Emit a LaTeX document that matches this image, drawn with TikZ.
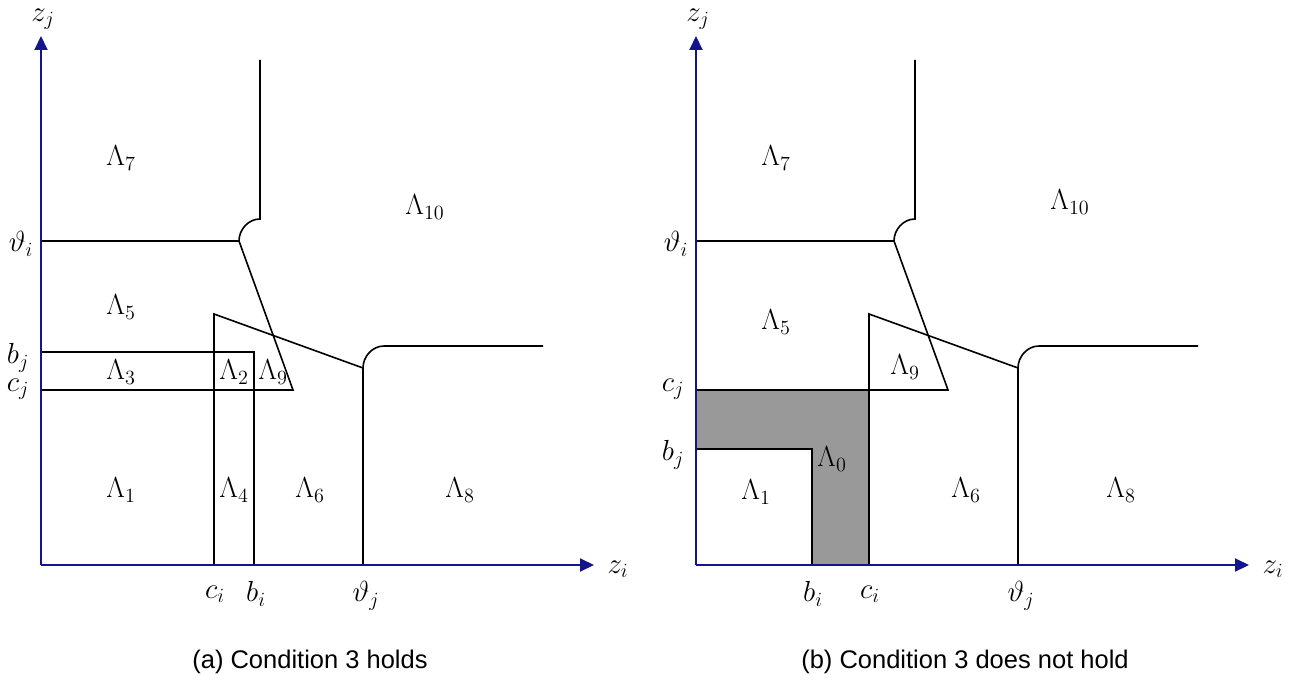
\documentclass[tikz,border=0pt]{standalone}
\usepackage{fontspec}
\newfontfamily\capfont{Liberation Sans}
\usetikzlibrary{arrows.meta}
\definecolor{axisblue}{RGB}{20,20,140}
\definecolor{fillgray}{RGB}{153,153,153}
\begin{document}
\begin{tikzpicture}[x=1pt,y=-1pt, line width=1.6pt,
  axis/.style={draw=axisblue, line width=2pt, -{Triangle[length=14pt,width=13pt]}},
  lbl/.style={font=\huge, scale=1.4, inner sep=0pt},
  captext/.style={font=\capfont\fontsize{25.5}{30}\selectfont, inner sep=0pt}]
\useasboundingbox (0,0) rectangle (1296,682);

% ---------- panel (a) ----------
\coordinate (oa) at (41,565);
\draw (41,241) -- (239,241) .. controls (239,229.4) and (248.4,219) .. (260,219) -- (260,60);
\draw (239,241) -- (293,390) -- (41,390);
\draw (214,565) -- (214,314) -- (363,368);
\draw (363,565) -- (363,368) .. controls (363,356.4) and (372.4,346) .. (384,346) -- (543,346);
\draw (41,352) -- (254,352) -- (254,565);
\draw[axis] (oa) -- (41,36);
\draw[axis] (oa) -- (594,565);

\node[lbl] (za) at (43,19) {$z_j$};
\node[lbl] (tia) at (21,244) {$\vartheta_i$};
\node[lbl] (bja) at (18,358) {$b_j$};
\node[lbl] (cja) at (18,389) {$c_j$};
\node[lbl] (cia) at (215,594) {$c_i$};
\node[lbl] (bia) at (256,594) {$b_i$};
\node[lbl] (tja) at (366,596) {$\vartheta_j$};
\node[lbl] (zia) at (618,569) {$z_i$};

\node[lbl] (a7) at (121,158) {$\Lambda_7$};
\node[lbl] (a10) at (425,207) {$\Lambda_{10}$};
\node[lbl] (a5) at (121,307) {$\Lambda_5$};
\node[lbl] (a3) at (121,372) {$\Lambda_3$};
\node[lbl] (a2) at (234,372) {$\Lambda_2$};
\node[lbl] (a9) at (273,372) {$\Lambda_9$};
\node[lbl] (a1) at (121,490) {$\Lambda_1$};
\node[lbl] (a4) at (234,490) {$\Lambda_4$};
\node[lbl] (a6) at (310,490) {$\Lambda_6$};
\node[lbl] (a8) at (460,490) {$\Lambda_8$};

\node[captext] (capa) at (310,662) {(a) Condition 3 holds};

% ---------- panel (b) ----------
\begin{scope}[xshift=655pt]
\fill[fillgray] (41,390) -- (214,390) -- (214,565) -- (157,565) -- (157,449) -- (41,449) -- cycle;
\coordinate (ob) at (41,565);
\draw (41,241) -- (239,241) .. controls (239,229.4) and (248.4,219) .. (260,219) -- (260,60);
\draw (239,241) -- (293,390) -- (41,390);
\draw (214,565) -- (214,314) -- (363,368);
\draw (363,565) -- (363,368) .. controls (363,356.4) and (372.4,346) .. (384,346) -- (543,346);
\draw (41,449) -- (157,449) -- (157,565);
\draw[axis] (ob) -- (41,36);
\draw[axis] (ob) -- (594,565);

\node[lbl] (zb) at (43,19) {$z_j$};
\node[lbl] (tib) at (21,244) {$\vartheta_i$};
\node[lbl] (cjb) at (18,389) {$c_j$};
\node[lbl] (bjb) at (18,455) {$b_j$};
\node[lbl] (bib) at (158,594) {$b_i$};
\node[lbl] (cib) at (215,594) {$c_i$};
\node[lbl] (tjb) at (366,596) {$\vartheta_j$};
\node[lbl] (zib) at (618,569) {$z_i$};

\node[lbl] (b7) at (121,158) {$\Lambda_7$};
\node[lbl] (b10) at (415,202) {$\Lambda_{10}$};
\node[lbl] (b5) at (121,322) {$\Lambda_5$};
\node[lbl] (b9) at (250,367) {$\Lambda_9$};
\node[lbl] (b0) at (177,459) {$\Lambda_0$};
\node[lbl] (b1) at (101,492) {$\Lambda_1$};
\node[lbl] (b6) at (311,490) {$\Lambda_6$};
\node[lbl] (b8) at (466,490) {$\Lambda_8$};

\node[captext] (capb) at (310,662) {(b) Condition 3 does not hold};
\end{scope}
\end{tikzpicture}
\end{document}
